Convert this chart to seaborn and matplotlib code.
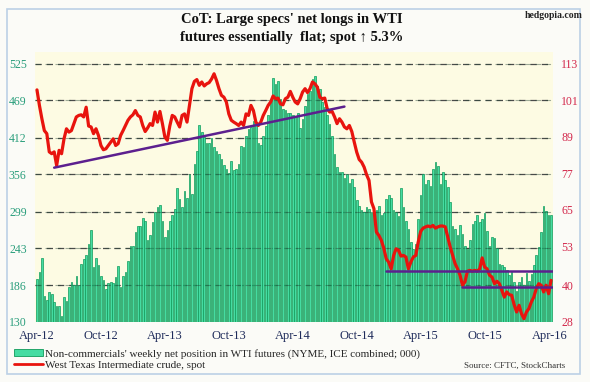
import numpy as np
import pandas as pd
import matplotlib.pyplot as plt
import seaborn as sns
from matplotlib.patches import Patch, Rectangle
from matplotlib.lines import Line2D

sns.set_theme(style='white')
plt.rcParams['font.family'] = ['Liberation Serif', 'DejaVu Serif']

# weekly net longs (000 contracts), Apr-2012 .. Apr-2016
net_longs = [
    196, 207, 228, 170, 163, 176, 173, 160, 154, 155,
    139, 169, 162, 184, 191, 186, 200, 186, 219, 226,
    232, 250, 271, 214, 228, 217, 201, 194, 180, 189,
    191, 189, 199, 216, 184, 200, 206, 224, 246, 247,
    268, 277, 277, 289, 284, 255, 263, 283, 298, 306,
    309, 285, 260, 270, 285, 294, 303, 335, 318, 306,
    330, 319, 357, 326, 372, 391, 431, 421, 413, 404,
    404, 411, 398, 392, 387, 379, 370, 364, 358, 376,
    362, 364, 372, 399, 398, 415, 425, 428, 438, 431,
    404, 401, 414, 430, 446, 466, 503, 494, 499, 471,
    456, 454,
    449, 450, 446, 443, 449, 426, 441, 461, 478, 484,
    501, 507, 491, 487, 466, 459, 447, 433, 415, 387,
    367, 360, 359, 350, 357, 342, 348, 336, 316, 308,
    302, 298, 306, 303, 298, 296, 301, 307, 293, 296,
    318, 325, 320, 302, 298, 292, 335, 306, 285, 273,
    252, 242,
    250, 288, 324, 357, 341, 347, 338, 364, 374, 369,
    341, 359, 347, 336, 313, 277, 273, 263, 278, 264,
    247, 242, 255, 280, 285, 294, 283, 288, 296, 269,
    247, 260, 259, 243, 219, 217, 214, 209, 202, 206,
    191, 178, 191, 199, 187, 205, 192, 204, 217, 233,
    245, 268, 307, 300, 293, 293,
]

# WTI spot ($/bbl), same weeks
wti_spot = [
    104.4, 99.3, 94.9, 91.0, 90.0, 84.0, 83.4, 84.0, 79.5, 84.5,
    83.4, 88.3, 91.6, 90.5, 91.0, 93.3, 95.5, 96.0, 96.2, 95.5,
    98.7, 92.5, 92.2, 90.0, 91.6, 89.4, 86.1, 84.7, 85.0, 86.1,
    87.2, 88.3, 86.1, 86.7, 89.4, 91.0, 92.7, 94.4, 95.5, 96.2,
    97.6, 96.0, 95.5, 92.7, 90.7, 91.9, 93.3, 92.7, 97.1, 93.8,
    97.3, 93.3, 88.9, 87.8, 92.5, 96.0, 95.5, 93.8, 92.2, 96.0,
    96.5, 93.8, 99.3, 104.8, 107.2, 107.8, 105.9, 107.0, 105.7, 106.4,
    106.8, 108.0, 109.7, 107.5, 104.8, 102.6, 102.0, 100.4, 96.5, 94.4,
    93.8, 93.3, 92.7, 93.8, 92.7, 96.5, 96.0, 99.3, 97.6, 93.8,
    92.7, 93.8, 96.0, 97.6, 99.3, 100.4, 102.4, 101.5, 101.7, 99.8,
    99.5, 101.5,
    102.0, 103.9, 102.0, 100.4, 99.8, 101.5, 103.7, 104.8, 103.5, 104.8,
    107.0, 106.4, 105.3, 102.0, 101.5, 101.7, 98.2, 97.1, 97.3, 95.5,
    93.3, 94.9, 93.8, 92.2, 91.6, 92.7, 90.7, 87.2, 83.9, 81.5,
    80.6, 79.0, 76.5, 74.6, 67.5, 65.3, 57.6, 56.5, 54.9, 52.3,
    48.8, 47.7, 45.5, 49.9, 52.1, 51.6, 49.7, 49.9, 49.4, 45.5,
    47.7, 49.4,
    49.9, 54.3, 57.8, 58.9, 59.3, 59.6, 59.3, 59.8, 58.9, 59.3,
    59.6, 59.6, 59.3, 56.0, 52.7, 49.9, 47.2, 45.5, 43.4, 40.1,
    41.2, 44.7, 45.0, 44.7, 45.0, 44.7, 45.5, 49.1, 46.1, 45.5,
    43.4, 42.8, 40.6, 41.4, 40.6, 38.4, 36.2, 37.9, 37.0, 36.8,
    33.7, 31.3, 33.5, 30.7, 29.1, 31.3, 32.4, 34.6, 36.2, 39.0,
    40.6, 40.1, 37.9, 40.1, 37.3, 41.7,
]

# trend lines drawn on the spot price: (week start, week end, price start, price end)
trendlines = [
    (7, 125, 78.8, 98.9),
    (142, 210, 44.8, 44.8),
    (173, 209.5, 39.6, 39.6),
]

left_ticks = [130, 186, 243, 299, 356, 412, 469, 525]
right_ticks = [28, 40, 53, 65, 77, 89, 101, 113]
tick_months = ['2012-04-01', '2012-10-01', '2013-04-01', '2013-10-01', '2014-04-01',
               '2014-10-01', '2015-04-01', '2015-10-01', '2016-04-01']

weeks = pd.date_range('2012-04-03', periods=len(net_longs), freq='7D')
df = pd.DataFrame({'week': np.arange(len(net_longs)), 'net': net_longs, 'spot': wti_spot})

fig = plt.figure(figsize=(5.9, 3.82), dpi=100)
fig.patch.set_facecolor('#fbfbf7')
fig.patches.append(Rectangle((7 / 590, 1 - 374 / 382), 573 / 590, 365 / 382,
                             transform=fig.transFigure, fill=False,
                             edgecolor='#bcd0e6', lw=1.2))

ax = fig.add_axes([35 / 590, 1 - 322 / 382, 518 / 590, 270 / 382])
ax.set_facecolor('#fdfbe3')

bar_green = '#45dca2'
bar_edge = '#0f9a5a'
sns.barplot(data=df, x='week', y='net', ax=ax, color=bar_green, width=0.66,
            edgecolor=bar_edge, linewidth=0.5, saturation=1, native_scale=True)

ltop = 543
ax.set_ylim(130, ltop)
ax.set_xlim(-0.8, len(net_longs) - 0.2)
ax.set_yticks(left_ticks)
ax.set_yticklabels([str(t) for t in left_ticks], color='#2a9e7c', fontsize=8.5)
for t in left_ticks[1:]:
    ax.axhline(t, color='#4a4a4a', lw=0.9, ls=(0, (5, 4)), zorder=0.5)
    ax.axhline(t, color='#2a4a3a', lw=0.8, ls=(0, (5, 4)), alpha=0.45, zorder=3)

xpos = [(pd.Timestamp(m) - weeks[0]).days / 7 for m in tick_months]
ax.set_xticks(xpos)
ax.set_xticklabels([pd.Timestamp(m).strftime('%b-%y') for m in tick_months],
                   color='#1e2b5a', fontsize=9)
ax.set_xlabel('')
ax.set_ylabel('')
ax.tick_params(axis='both', length=0, pad=6)
for s in ax.spines.values():
    s.set_visible(False)

ax2 = ax.twinx()
rtop = 28 + (ltop - 130) * 85 / 395
sns.lineplot(data=df, x='week', y='spot', ax=ax2, color='#e8140e', lw=2.3)
for x0, x1, y0, y1 in trendlines:
    ax2.plot([x0, x1], [y0, y1], color='#5c1f8e', lw=1.8)
ax2.set_ylim(28, rtop)
ax2.set_yticks(right_ticks)
ax2.set_yticklabels([str(t) for t in right_ticks], color='#d3284c', fontsize=8.5)
ax2.set_ylabel('')
ax2.tick_params(axis='y', length=0, pad=6)
for s in ax2.spines.values():
    s.set_visible(False)

fig.text(292 / 590, 1 - 19 / 382, "CoT: Large specs' net longs in WTI",
         ha='center', va='center', fontsize=10.5, fontweight='bold', color='#111')
fig.text(292 / 590, 1 - 38 / 382, "futures essentially  flat; spot \u2191 5.3%",
         ha='center', va='center', fontsize=10.5, fontweight='bold', color='#111')
fig.text(583 / 590, 1 - 16 / 382, 'hedgopia.com', ha='right', va='center',
         fontsize=7, fontweight='bold', color='#222')

handles = [Patch(facecolor=bar_green, edgecolor=bar_edge, lw=0.6),
           Line2D([0], [0], color='#e8140e', lw=2)]
labels = ["Non-commercials' weekly net position in WTI futures (NYME, ICE combined; 000)",
          'West Texas Intermediate crude, spot']
fig.legend(handles, labels, loc='upper left', bbox_to_anchor=(14 / 590, 1 - 349 / 382),
           frameon=False, fontsize=8, handlelength=2.6, handleheight=0.6,
           labelspacing=0.1, handletextpad=0.2, borderaxespad=0, borderpad=0)
fig.text(565 / 590, 1 - 366 / 382, 'Source: CFTC, StockCharts', ha='right',
         va='center', fontsize=6.5, color='#333')

plt.savefig('out.png', dpi=100, facecolor=fig.get_facecolor())
plt.close()
